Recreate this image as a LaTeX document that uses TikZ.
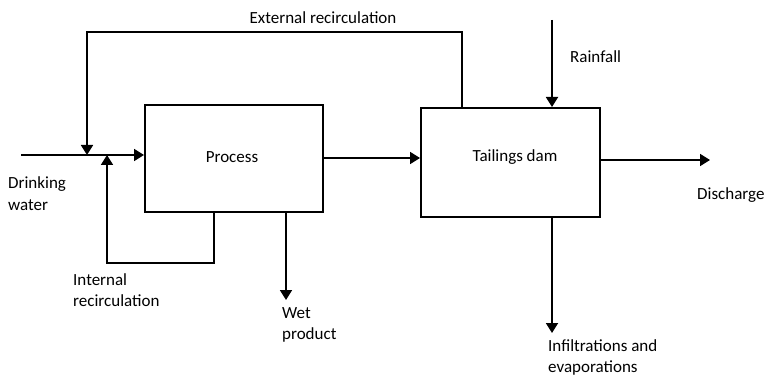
\documentclass[tikz,border=0pt]{standalone}
\usepackage{fontspec}
\setmainfont{Carlito}
\usetikzlibrary{arrows.meta}
\begin{document}
\begin{tikzpicture}[x=1pt,y=-1pt,
  flow/.style={line width=1.8pt,-{Triangle[length=10pt,width=12pt]}},
  box/.style={draw,line width=1.8pt,anchor=north west,inner sep=0pt},
  lbl/.style={font=\fontsize{17}{21}\selectfont,align=left,inner sep=0pt},
  clbl/.style={font=\fontsize{17}{21}\selectfont,inner sep=0pt}]
\useasboundingbox (0,0) rectangle (766,377);
% boxes
\node[box,minimum width=178pt,minimum height=107pt] (proc) at (144,104) {};
\node[box,minimum width=179pt,minimum height=109pt] (dam) at (420,107) {};
\node[clbl] (proct) at (232,157) {Process};
\node[clbl] (damt) at (515,157) {Tailings dam};
% coordinates
\coordinate (dwS) at (21,155);
\coordinate (extTop1) at (87,32);
\coordinate (extTop2) at (462,32);
\coordinate (extIn) at (87,155);
\coordinate (intIn) at (107,155);
\coordinate (intC1) at (107,263);
\coordinate (intC2) at (214,263);
\coordinate (rainS) at (552,20);
\coordinate (dischE) at (710,160);
\coordinate (wetE) at (286,300);
\coordinate (infE) at (552,333);
% connectors
\draw[flow] (dwS) -- (proc.west |- dwS);
\draw[flow] (dam.north -| extTop2) -- (extTop2) -- (extTop1) -- (extIn);
\draw[flow] (proc.south -| intC2) -- (intC2) -- (intC1) -- (intIn);
\draw[flow] (proc.east |- 0,158) -- (dam.west |- 0,158);
\draw[flow] (rainS) -- (dam.north -| rainS);
\draw[flow] (dam.east |- dischE) -- (dischE);
\draw[flow] (proc.south -| wetE) -- (wetE);
\draw[flow] (dam.south -| infE) -- (infE);
% labels
\node[clbl,anchor=base] (ext) at (323,24) {External recirculation};
\node[lbl,anchor=base west] (rain) at (570,63) {Rainfall};
\node[lbl,anchor=base west] (disch) at (697,200) {Discharge};
\node[lbl,anchor=base west] (dw) at (8,210) {Drinking\\water};
\node[lbl,anchor=base west] (ir) at (73,306) {Internal\\recirculation};
\node[lbl,anchor=base west] (wp) at (282,339) {Wet\\product};
\node[lbl,anchor=base west] (ie) at (548,372) {Infiltrations and\\evaporations};
\end{tikzpicture}
\end{document}
